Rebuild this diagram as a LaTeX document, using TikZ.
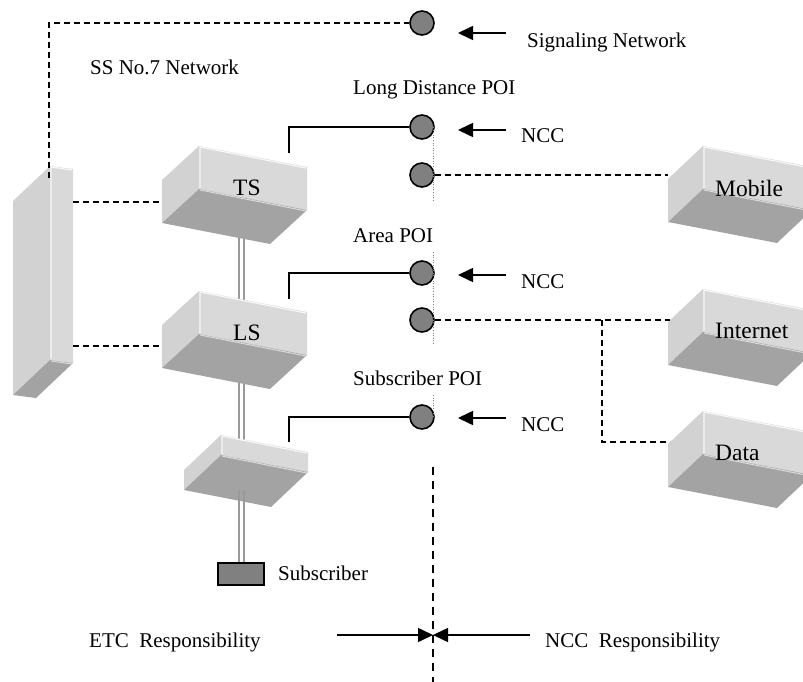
\documentclass[tikz,border=0pt]{standalone}
\usepackage{fontspec}
\setmainfont{Liberation Serif}
\usetikzlibrary{calc,arrows.meta}

\definecolor{facefront}{HTML}{D9D9D9}
\definecolor{faceside}{HTML}{D2D2D2}
\definecolor{facebottom}{HTML}{A3A3A3}
\definecolor{poifill}{HTML}{808080}
\definecolor{linkgray}{HTML}{9A9A9A}

\tikzset{
  txt/.style={font=\fontsize{21}{24}\selectfont, inner sep=0pt, anchor=west},
  boxtxt/.style={font=\fontsize{23.5}{26}\selectfont, inner sep=0pt, anchor=west},
  poi/.style={circle, draw=black, line width=1.6pt, fill=poifill, minimum size=24pt, inner sep=0pt},
  solidlink/.style={line width=1.6pt},
  dashlink/.style={line width=1.6pt, dash pattern=on 6pt off 4pt},
  border/.style={line width=0.6pt, gray, dotted},
  boundary/.style={line width=1.6pt, dash pattern=on 8pt off 6pt},
  pointer/.style={line width=1.6pt, -{Triangle[length=15pt,width=14pt]}},
  trunk/.style={line width=1.6pt, linkgray},
}

% 3-D box: name, x, y of front top-left, width, rise, height, depth dx, depth dy
\newcommand\cubebox[8]{%
  \coordinate (#1-a) at (#2,#3);
  \coordinate (#1-b) at ($(#1-a)+(#4,#5)$);
  \coordinate (#1-c) at ($(#1-b)+(0,#6)$);
  \coordinate (#1-d) at ($(#1-a)+(0,#6)$);
  \coordinate (#1-ea) at ($(#1-a)+(#7,#8)$);
  \coordinate (#1-ec) at ($(#1-c)+(#7,#8)$);
  \coordinate (#1-ed) at ($(#1-d)+(#7,#8)$);
  \fill[faceside] (#1-a) -- (#1-ea) -- (#1-ed) -- (#1-d) -- cycle;
  \fill[facefront] (#1-a) -- (#1-b) -- (#1-c) -- (#1-d) -- cycle;
  \fill[facebottom] (#1-d) -- (#1-c) -- (#1-ec) -- (#1-ed) -- cycle;
  \draw[white, line width=1.2pt, opacity=0.8]
    ($(#1-d)+(1,-1)$) -- ($(#1-a)+(1,1)$) -- ($(#1-b)+(-1,1)$);
  \draw[white, line width=1pt, opacity=0.6]
    ($(#1-d)+(1,1)$) -- ($(#1-c)+(-1,1)$);
}

\begin{document}
\begin{tikzpicture}[x=1pt,y=-1pt]
\useasboundingbox (0,0) rectangle (803,682);

% trunk between the exchanges and the subscriber
\draw[trunk] (239,236) -- (239,563);
\draw[trunk] (244,236) -- (244,563);

% exchanges and networks
\cubebox{stp}{50}{166}{23}{3}{194}{-37}{35}
\cubebox{ts}{199}{146}{108}{21}{43}{-37}{34}
\cubebox{ls}{199}{291}{108}{21}{43}{-37}{34}
\cubebox{rsu}{221}{435}{87}{17}{20}{-37}{35}
\cubebox{mob}{703}{146}{109}{21}{43}{-35}{33}
\cubebox{inet}{703}{289}{109}{21}{43}{-35}{33}
\cubebox{data}{703}{411}{109}{21}{43}{-35}{33}

\draw[trunk] (239,490) -- (239,563);
\draw[trunk] (244,490) -- (244,563);

\node[boxtxt] (tslabel) at (233,188) {TS};
\node[boxtxt] (lslabel) at (233,333) {LS};
\node[boxtxt] (moblabel) at (715,188) {Mobile};
\node[boxtxt] (inetlabel) at (715,331) {Internet};
\node[boxtxt] (datalabel) at (715,453) {Data};

% subscriber terminal
\node[draw=black, line width=1.6pt, fill=poifill, minimum width=46pt, minimum height=22pt, inner sep=0pt] (term) at (241,574) {};
\node[txt] (termlabel) at (278,573) {Subscriber};

% points of interconnection
\node[poi] (sig) at (422,23) {};
\node[poi] (ld) at (422,127) {};
\node[poi] (ldm) at (422,175) {};
\node[poi] (area) at (422,273) {};
\node[poi] (areai) at (422,320) {};
\node[poi] (sub) at (422,417) {};

% boundary between operators
\coordinate (bd1a) at (433,127);
\coordinate (bd1b) at (433,200);
\coordinate (bd2a) at (433,252);
\coordinate (bd2b) at (433,345);
\coordinate (bd3a) at (433,395);
\coordinate (bd3b) at (433,417);
\draw[border] (bd1a) -- (bd1b);
\draw[border] (bd2a) -- (bd2b);
\draw[border] (bd3a) -- (bd3b);
\coordinate (bdtop) at (433,467);
\coordinate (bdbot) at (433,682);
\draw[boundary] (bdtop) -- (bdbot);

% signalling links
\coordinate (stptop) at (49,23);
\coordinate (stpend) at (49,178);
\draw[dashlink] (stpend) -- (stptop) -- (sig);
\coordinate (stpts) at (73,202);
\coordinate (tsside) at (162,202);
\draw[dashlink] (stpts) -- (tsside);
\coordinate (stpls) at (73,346);
\coordinate (lsside) at (162,346);
\draw[dashlink] (stpls) -- (lsside);

% interconnection links
\coordinate (tsup) at (289,153);
\draw[solidlink] (tsup) |- (ld);
\coordinate (lsup) at (289,299);
\draw[solidlink] (lsup) |- (area);
\coordinate (rsuup) at (289,442);
\draw[solidlink] (rsuup) |- (sub);

\coordinate (mobside) at (668,175);
\draw[dashlink] (ldm) -- (mobside);
\coordinate (split) at (602,320);
\coordinate (inetside) at (670,320);
\coordinate (dataside) at (670,442);
\draw[dashlink] (areai) -- (inetside);
\draw[dashlink] (split) |- (dataside);

% labels and pointers
\node[txt] (ss7) at (90,67) {SS No.7 Network};
\node[txt] (ldlabel) at (353,90) {Long Distance POI};
\node[txt] (arealabel) at (353,236) {Area POI};
\node[txt] (sublabel) at (353,378) {Subscriber POI};

\node[txt] (signet) at (527,42) {Signaling Network};
\node[txt] (ncc1) at (521,136) {NCC};
\node[txt] (ncc2) at (521,282) {NCC};
\node[txt] (ncc3) at (521,425) {NCC};

\coordinate (p0) at (506,33);
\coordinate (t0) at (458,33);
\coordinate (p1) at (506,130);
\coordinate (t1) at (458,130);
\coordinate (p2) at (506,275);
\coordinate (t2) at (458,275);
\coordinate (p3) at (506,418);
\coordinate (t3) at (458,418);
\draw[pointer] (p0) -- (t0);
\draw[pointer] (p1) -- (t1);
\draw[pointer] (p2) -- (t2);
\draw[pointer] (p3) -- (t3);

% responsibility split
\node[txt] (etcresp) at (89,642) {ETC\ \ Responsibility};
\node[txt] (nccresp) at (545,642) {NCC\ \ Responsibility};
\coordinate (leftend) at (337,635);
\coordinate (rightend) at (530,635);
\coordinate (meet) at (433,635);
\draw[pointer] (leftend) -- (meet);
\draw[pointer] (rightend) -- (meet);
\end{tikzpicture}
\end{document}
